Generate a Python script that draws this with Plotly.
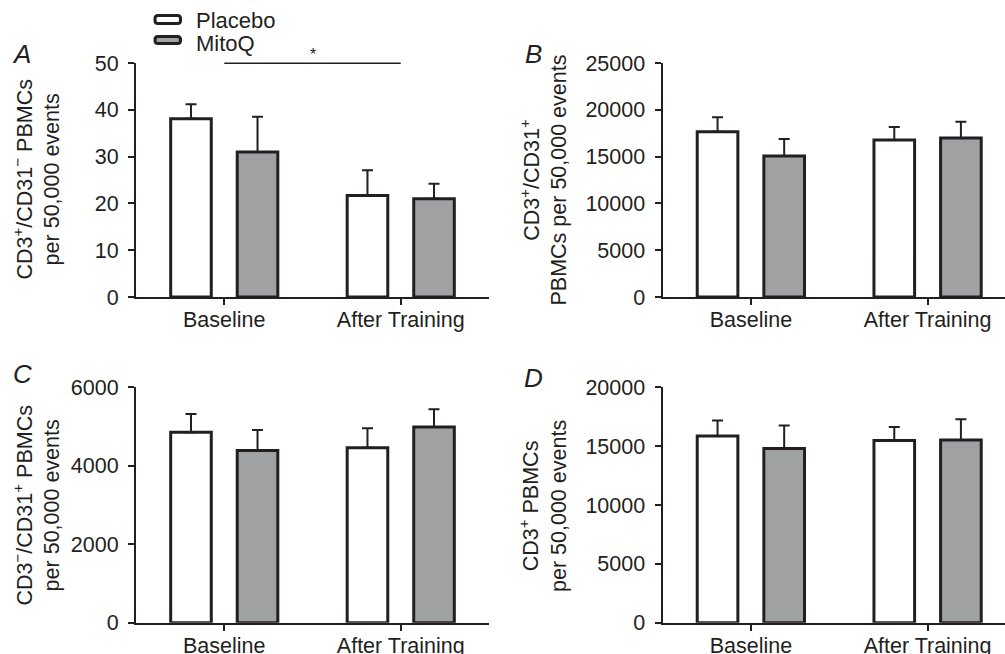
import plotly.graph_objects as go

# ---------------- data ----------------
categories = ["Baseline", "After Training"]

a_placebo = [38.1, 21.7]
a_placebo_sem = [3.1, 5.4]
a_mitoq = [31.0, 21.0]
a_mitoq_sem = [7.5, 3.2]

b_placebo = [17660, 16770]
b_placebo_sem = [1550, 1380]
b_mitoq = [15060, 16980]
b_mitoq_sem = [1810, 1740]

c_placebo = [4855, 4462]
c_placebo_sem = [467, 495]
c_mitoq = [4386, 4990]
c_mitoq_sem = [528, 452]

d_placebo = [15870, 15470]
d_placebo_sem = [1300, 1165]
d_mitoq = [14790, 15530]
d_mitoq_sem = [1955, 1760]

y_titles = [
    "CD3<sup>+</sup>/CD31<sup>−</sup> PBMCs<br>per 50,000 events",
    "CD3<sup>+</sup>/CD31<sup>+</sup><br>PBMCs per 50,000 events",
    "CD3<sup>−</sup>/CD31<sup>+</sup> PBMCs<br>per 50,000 events",
    "CD3<sup>+</sup> PBMCs<br>per 50,000 events",
]
panel_labels = ["A", "B", "C", "D"]
y_ranges = [[0, 50], [0, 25000], [0, 6000], [0, 20000]]
y_dticks = [10, 5000, 2000, 5000]

# ---------------- style ----------------
W, H = 1005, 654
INK = "#231f20"
GREY = "#a0a1a3"
FONT = "Liberation Sans, Arial, sans-serif"
FS = 21.5


def px_x(p):
    return p / W


def px_y(p):
    return 1 - p / H


fig = go.Figure()

panels = [
    (a_placebo, a_placebo_sem, a_mitoq, a_mitoq_sem),
    (b_placebo, b_placebo_sem, b_mitoq, b_mitoq_sem),
    (c_placebo, c_placebo_sem, c_mitoq, c_mitoq_sem),
    (d_placebo, d_placebo_sem, d_mitoq, d_mitoq_sem),
]

for i, (pm, ps, mm, ms) in enumerate(panels):
    xa = "x" if i == 0 else f"x{i+1}"
    ya = "y" if i == 0 else f"y{i+1}"
    for name, vals, sem, fill in [("Placebo", pm, ps, "white"), ("MitoQ", mm, ms, GREY)]:
        fig.add_trace(go.Bar(
            x=categories, y=vals, name=name, showlegend=False,
            xaxis=xa, yaxis=ya,
            marker=dict(color=fill, line=dict(color=INK, width=3)),
            error_y=dict(type="data", array=sem, arrayminus=[0] * len(sem),
                         symmetric=False, color=INK, thickness=2, width=5.5),
        ))

x_dom_left = [px_x(136), px_x(489)]
x_dom_right = [px_x(662.5), 1.0]
y_dom_top = [px_y(297), px_y(63)]
y_dom_bot = [px_y(622.7), px_y(387.3)]

layout = dict(
    width=W, height=H, autosize=False,
    margin=dict(l=0, r=0, t=0, b=0, pad=0),
    paper_bgcolor="white", plot_bgcolor="white",
    barmode="group", bargap=0.246, bargroupgap=0.39,
    font=dict(family=FONT, color=INK, size=FS),
    showlegend=False,
)

doms = [
    (x_dom_left, y_dom_top),
    (x_dom_right, y_dom_top),
    (x_dom_left, y_dom_bot),
    (x_dom_right, y_dom_bot),
]
for i, (xd, yd) in enumerate(doms):
    xk = "xaxis" if i == 0 else f"xaxis{i+1}"
    yk = "yaxis" if i == 0 else f"yaxis{i+1}"
    yanchor = "y" if i == 0 else f"y{i+1}"
    xanchor = "x" if i == 0 else f"x{i+1}"
    xr = [-0.5, 1.5] if i in (0, 2) else [-0.5, 1.438]
    layout[xk] = dict(
        domain=xd, anchor=yanchor, range=xr, type="category",
        showline=True, linecolor=INK, linewidth=2,
        ticks="outside", ticklen=6, tickwidth=2, tickcolor=INK,
        ticklabelstandoff=-4,
        showgrid=False, zeroline=False, automargin=False,
        tickfont=dict(size=FS, color=INK, family=FONT),
        fixedrange=True,
    )
    layout[yk] = dict(
        domain=yd, anchor=xanchor, range=y_ranges[i], dtick=y_dticks[i],
        tickformat="d",
        showline=True, linecolor=INK, linewidth=2,
        ticks="outside", ticklen=6, tickwidth=2, tickcolor=INK,
        ticklabelstandoff=5,
        showgrid=False, zeroline=False, automargin=False,
        tickfont=dict(size=FS, color=INK, family=FONT),
        fixedrange=True,
    )

fig.update_layout(**layout)

annotations = []
title_pos = [(36.5, 180), (543.5, 180), (36.5, 506), (543, 506)]
for t, (tx, ty) in zip(y_titles, title_pos):
    annotations.append(dict(
        text=t, xref="paper", yref="paper", x=px_x(tx), y=px_y(ty),
        xanchor="center", yanchor="middle", textangle=-90, showarrow=False,
        font=dict(size=FS, color=INK, family=FONT),
    ))
label_pos = [(21, 54), (533, 54), (22, 374), (533, 378)]
for lab, (lx, ly) in zip(panel_labels, label_pos):
    annotations.append(dict(
        text=f"<i>{lab}</i>", xref="paper", yref="paper", x=px_x(lx), y=px_y(ly),
        xanchor="center", yanchor="middle", showarrow=False,
        font=dict(size=26, color=INK, family=FONT),
    ))
for name, ly in [("Placebo", 20.5), ("MitoQ", 43)]:
    annotations.append(dict(
        text=name, xref="paper", yref="paper", x=px_x(194), y=px_y(ly),
        xanchor="left", yanchor="middle", showarrow=False,
        font=dict(size=22, color=INK, family=FONT),
    ))
annotations.append(dict(
    text="*", xref="x", yref="paper", x=0.5, y=px_y(63.3),
    xanchor="center", yanchor="bottom", showarrow=False, yshift=-2,
    font=dict(size=16, color=INK, family=FONT),
))
fig.update_layout(annotations=annotations)


def rounded_rect(x0, y0, x1, y1, r=3):
    X0, X1 = px_x(x0), px_x(x1)
    Y0, Y1 = px_y(y0), px_y(y1)
    rx, ry = r / W, r / H
    return (f"M{X0+rx},{Y0} L{X1-rx},{Y0} Q{X1},{Y0} {X1},{Y0-ry} "
            f"L{X1},{Y1+ry} Q{X1},{Y1} {X1-rx},{Y1} L{X0+rx},{Y1} "
            f"Q{X0},{Y1} {X0},{Y1+ry} L{X0},{Y0-ry} Q{X0},{Y0} {X0+rx},{Y0} Z")


shapes = [
    dict(type="path", xref="paper", yref="paper",
         path=rounded_rect(155, 15.5, 180.5, 23.5), line=dict(color=INK, width=3),
         fillcolor="white"),
    dict(type="path", xref="paper", yref="paper",
         path=rounded_rect(155, 36.5, 180.5, 43.5), line=dict(color=INK, width=3),
         fillcolor=GREY),
    dict(type="line", xref="x", yref="paper", x0=categories[0], x1=categories[1],
         y0=px_y(63.3), y1=px_y(63.3), line=dict(color=INK, width=1.5)),
]
fig.update_layout(shapes=shapes)

fig.write_html("out.html")
